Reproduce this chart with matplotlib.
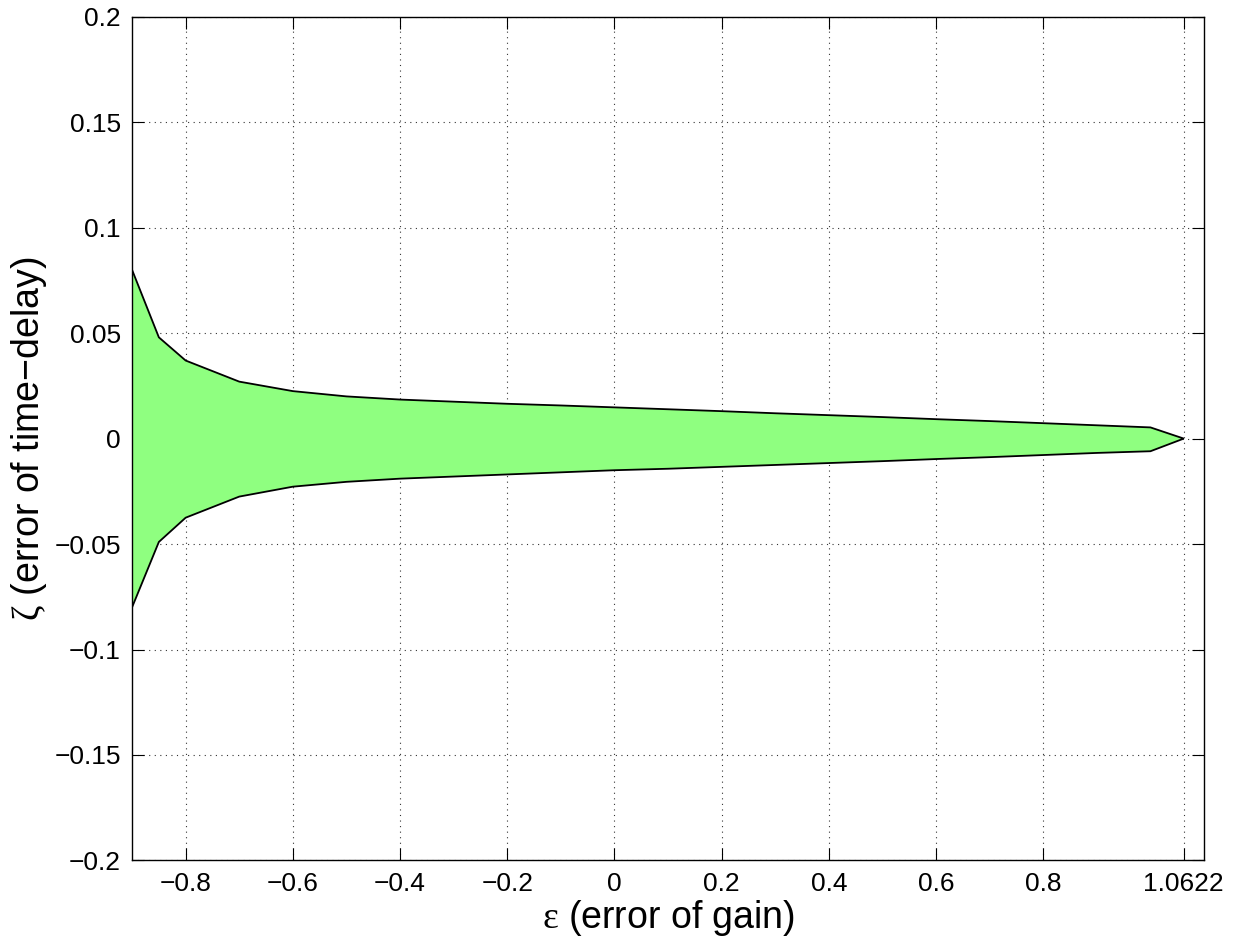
import numpy as np
import matplotlib
matplotlib.use("Agg")
import matplotlib.pyplot as plt
from matplotlib.ticker import FuncFormatter

plt.rcParams['font.family'] = ['Liberation Sans', 'DejaVu Sans']
plt.rcParams['mathtext.fontset'] = 'custom'
plt.rcParams['mathtext.rm'] = 'Liberation Serif'
plt.rcParams['mathtext.it'] = 'Liberation Serif:italic'

# Data
eps = [-0.9, -0.85, -0.8, -0.7, -0.6, -0.5, -0.4, -0.3, -0.2, -0.1, 0.0,
       0.1, 0.2, 0.3, 0.4, 0.5, 0.6, 0.7, 0.8, 0.9, 1.0, 1.0622]
zeta_upper = [0.080, 0.048, 0.037, 0.027, 0.0225, 0.020, 0.0185, 0.0175, 0.0165,
              0.0157, 0.0148, 0.0139, 0.0130, 0.0120, 0.0111, 0.0102, 0.0092,
              0.0083, 0.0073, 0.0063, 0.0053, 0.0]
zeta_lower = [-0.080, -0.049, -0.0375, -0.0275, -0.0228, -0.0205, -0.019, -0.018,
              -0.017, -0.016, -0.015, -0.0143, -0.0134, -0.0125, -0.0116, -0.0107,
              -0.0097, -0.0088, -0.0078, -0.0068, -0.0060, 0.0]
xticks = [-0.8, -0.6, -0.4, -0.2, 0, 0.2, 0.4, 0.6, 0.8, 1.0622]
yticks = [-0.2, -0.15, -0.1, -0.05, 0, 0.05, 0.1, 0.15, 0.2]

fig = plt.figure(figsize=(12.4, 9.44), dpi=100)
ax = fig.add_axes([0.1065, 0.0885, 0.8645, 0.8938])

px = np.concatenate([eps, eps[::-1]])
py = np.concatenate([zeta_upper, zeta_lower[::-1]])
ax.fill(px, py, facecolor='#8fff80', edgecolor='black', linewidth=1.3, zorder=2)

ax.set_xlim(-0.9, 1.1)
ax.set_ylim(-0.2, 0.2)
ax.set_xticks(xticks)
ax.set_yticks(yticks)

def fmt(v, pos):
    s = f'{v:g}'
    return s.replace('-', '\u2212')

ax.xaxis.set_major_formatter(FuncFormatter(fmt))
ax.yaxis.set_major_formatter(FuncFormatter(fmt))

ax.grid(True, linestyle=(0, (1, 4)), color='black', linewidth=0.8, alpha=0.8)
ax.set_axisbelow(True)
ax.tick_params(direction='in', length=8.5, width=0.8, top=True, right=True,
               labelsize=19, pad=8, colors='black')
for sp in ax.spines.values():
    sp.set_linewidth(1.0)

ax.set_xlabel('$\\mathrm{ε}$ (error of gain)', fontsize=27, labelpad=2)
ax.set_ylabel('$\\mathrm{ζ}$ (error of time\u2212delay)', fontsize=27, labelpad=4)

fig.savefig('out.png', dpi=100, facecolor='white')
